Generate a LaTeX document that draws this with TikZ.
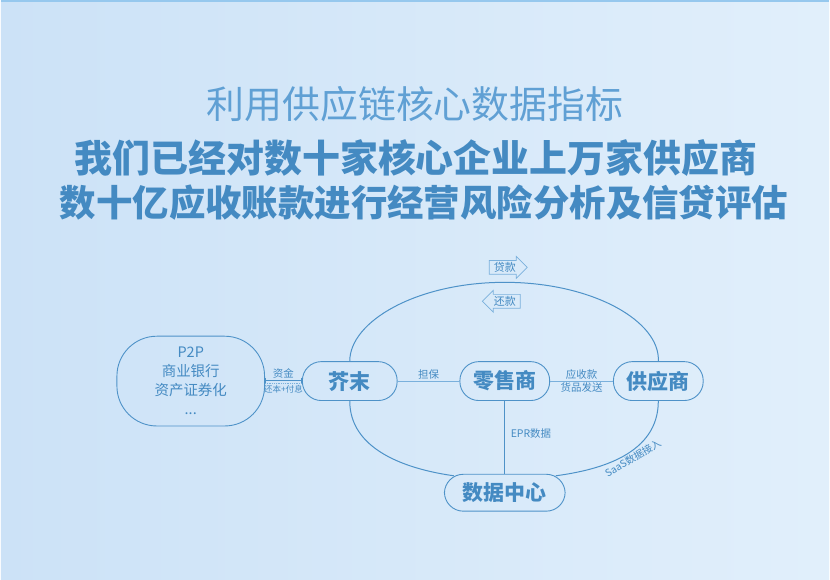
\documentclass[tikz,border=0pt]{standalone}
\usepackage{fontspec}
\setmainfont{Noto Sans CJK SC}
\usetikzlibrary{positioning,shapes.arrows,arrows.meta}

\definecolor{bgleft}{RGB}{204,226,247}
\definecolor{bgright}{RGB}{225,239,251}
\definecolor{inkblue}{RGB}{68,138,194}
\definecolor{lineblue}{RGB}{78,146,200}
\definecolor{paleblue}{RGB}{122,176,220}
\definecolor{titleblue}{RGB}{96,160,212}
\definecolor{topline}{RGB}{150,200,238}

\begin{document}
\begin{tikzpicture}[
        x=1pt, y=-1pt,
        font=\fontsize{11}{13}\selectfont,
        headline/.style={text=titleblue, font=\fontsize{38}{40}\selectfont, inner sep=0pt},
        claim/.style={text=inkblue, font=\fontsize{38}{40}\selectfont\bfseries, inner sep=0pt},
        entity/.style={rectangle, draw=lineblue, line width=0.9pt, rounded corners=19pt, minimum width=90pt, minimum height=39pt, inner sep=0pt, text=inkblue, font=\fontsize{21}{24}\selectfont\bfseries},
        partner/.style={rectangle, draw=lineblue, line width=0.9pt, rounded corners=40pt, minimum width=148pt, minimum height=90pt, inner sep=0pt, align=center, text=inkblue, font=\fontsize{14.5}{19}\selectfont},
        moneyarrow/.style={single arrow, draw=paleblue, line width=0.7pt, single arrow head extend=4pt, minimum height=38pt, inner sep=1.5pt, text=inkblue, font=\fontsize{11}{12}\selectfont},
        tag/.style={text=inkblue, font=\fontsize{10.5}{12}\selectfont, inner sep=1.5pt},
        link/.style={draw=paleblue, line width=0.8pt},
        ring/.style={draw=lineblue, line width=1pt}
    ]

        % --- Background ---
        \shade [left color=bgleft, right color=bgright] (0,0) rectangle (830,581);
        \draw [topline, line width=2pt] (0,1) -- (830,1);
        \useasboundingbox (0,0) rectangle (830,581);

        % --- Headlines ---
        \node (headline) [headline] at (415,104) {利用供应链核心数据指标};
        \node (claimone) [claim] at (416,158) {我们已经对数十家核心企业上万家供应商};
        \node (claimtwo) [claim, font=\fontsize{36.5}{40}\selectfont\bfseries] at (424,203) {数十亿应收账款进行经营风险分析及信贷评估};

        % --- Parties ---
        \node (lss) [entity] at (505,382) {零售商};
        \node (jm) [entity, minimum width=95pt, left=62pt of lss] {芥末};
        \node (gys) [entity, right=63pt of lss] {供应商};
        \node (sjzx) [entity, minimum width=121pt, minimum height=37pt, below=73pt of lss] {数据中心};
        \node (p2p) [partner, left=37pt of jm] {P2P\\商业银行\\资产证券化\\...};

        % --- Money loop ---
        \coordinate (looptop) at (505,283);
        \node (loan) [moneyarrow] at (505,268) {贷款};
        \node (repay) [moneyarrow, shape border rotate=180] at (505,302) {还款};

        \draw [ring] (jm.north) .. controls +(0,-40) and +(-88,0) .. (looptop)
            .. controls +(88,0) and +(2,-40) .. (gys.north);
        \draw [ring] (jm.south) .. controls +(0,48) and +(-50,-7) .. ([xshift=10pt,yshift=-2pt]sjzx.north west);
        \draw [ring] (gys.south) .. controls +(0,53) and +(45,-6) .. ([xshift=-10pt,yshift=-2pt]sjzx.north east)
            node [tag, pos=0.45, rotate=31, anchor=north, font=\fontsize{10}{12}\selectfont] {SaaS数据接入};

        % --- Connections ---
        \draw [lineblue, line width=1pt, {Bar[width=5pt]}-{Bar[width=5pt]}] ([yshift=1pt]p2p.east) -- node [tag, above] {资金} ([yshift=1pt]jm.west);
        \draw [paleblue, line width=0.8pt, densely dotted] ([yshift=-2.5pt]p2p.east) -- node [tag, below, font=\fontsize{8.5}{10}\selectfont] {还本+付息} ([yshift=-2.5pt]jm.west);

        \draw [link] (jm) -- node [tag, above] {担保} (lss);
        \draw [link] (lss) -- node [tag, above] {应收款} node [tag, below] {货品发送} (gys);
        \draw [ring] (lss) -- node [tag, right=4pt, pos=0.45] {EPR数据} (sjzx);

    \end{tikzpicture}
\end{document}
